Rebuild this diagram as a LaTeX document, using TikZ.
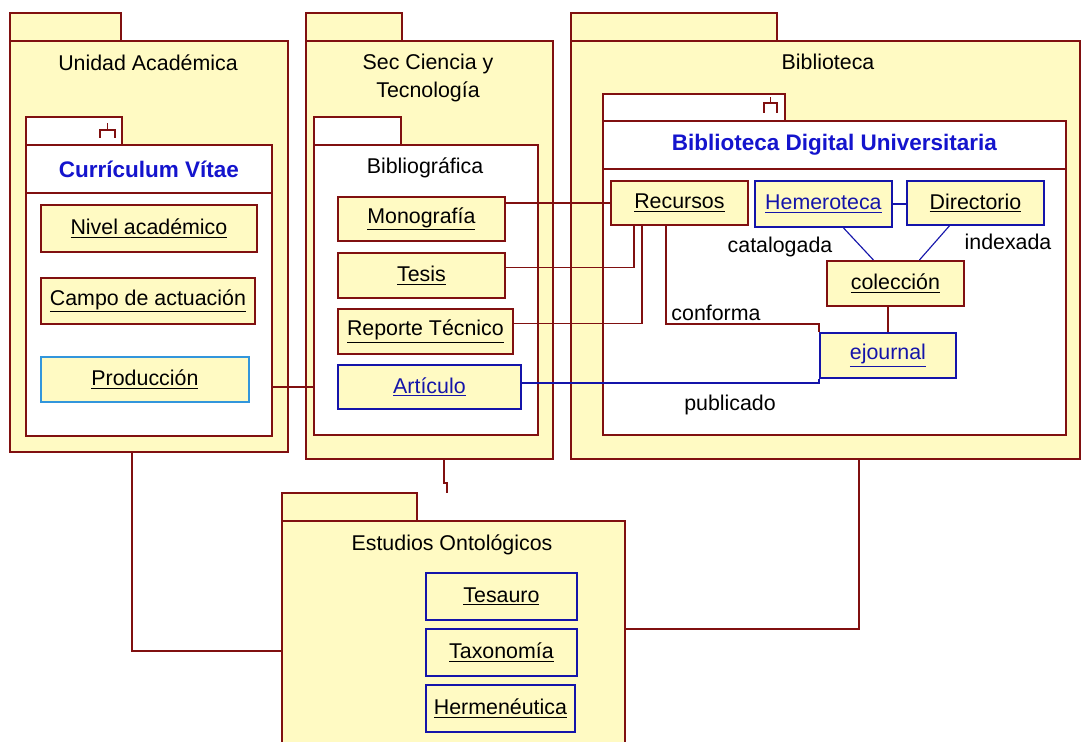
\documentclass[tikz,border=0pt]{standalone}
\usepackage{fontspec}
\setmainfont{Liberation Sans}
\definecolor{pkgfill}{RGB}{255,250,195}
\definecolor{pkgline}{RGB}{128,16,16}
\definecolor{clsblue}{RGB}{20,20,170}
\definecolor{titleblue}{RGB}{20,20,205}
\definecolor{lightblue}{RGB}{50,150,220}
\tikzstyle{pkg} = [rectangle, anchor=north west, inner sep=0pt, draw=pkgline, fill=pkgfill, line width=1.3pt]
\tikzstyle{pkgtab} = [pkg, minimum height=0.7cm]
\tikzstyle{comp} = [rectangle, anchor=north west, inner sep=0pt, text centered, draw=pkgline, fill=white, line width=1.3pt]
\tikzstyle{cls} = [rectangle, anchor=north west, inner sep=0pt, text centered, draw=pkgline, fill=pkgfill, line width=1.3pt]
\tikzstyle{clsb} = [cls, draw=clsblue]
\tikzstyle{heading} = [font=\fontsize{16}{19}\selectfont\bfseries, text=titleblue]
\tikzstyle{conn} = [draw=pkgline, line width=1.3pt]
\tikzstyle{connb} = [draw=clsblue, line width=1.3pt]
\tikzstyle{assoc} = [draw=clsblue, line width=0.8pt]

\begin{document}
\begin{tikzpicture}[x=0.025cm, y=-0.025cm, font=\fontsize{15.2}{20}\selectfont]
	\clip (0,0) rectangle (1081,742);
	\node (uatab) [pkgtab, minimum width=2.775cm] at (9,12) {};
	\node (ua) [pkg, minimum width=6.95cm, minimum height=10.275cm] at (9,40) {};
	\node (ualabel) at (148,63) {Unidad Académica};
	\node (cvtab) [comp, minimum width=2.4cm, minimum height=0.7cm] at (25,116) {};
	\node (cvhead) [comp, heading, minimum width=6.15cm, minimum height=1.2cm] at (25,144) {Currículum Vítae};
	\node (cv) [comp, minimum width=6.15cm, minimum height=6.075cm] at (25,192) {};
	\node (niv) [cls, minimum width=5.4cm, minimum height=1.175cm] at (40,204) {\underline{Nivel académico}};
	\node (campo) [cls, minimum width=5.35cm, minimum height=1.15cm] at (40,277) {\underline{Campo de actuación}};
	\node (prod) [cls, draw=lightblue, minimum width=5.2cm, minimum height=1.125cm] at (40,356) {\underline{Producción}};

	\node (sectab) [pkgtab, minimum width=2.4cm] at (305,12) {};
	\node (sec) [pkg, minimum width=6.175cm, minimum height=10.45cm] at (305,40) {};
	\node (seclabel) [align=center] at (428,78) {Sec Ciencia y\\Tecnología};
	\node (bibltab) [comp, minimum width=2.175cm, minimum height=0.7cm] at (313,116) {};
	\node (bibl) [comp, minimum width=5.6cm, minimum height=7.25cm] at (313,144) {};
	\node (bibllabel) at (425,168) {Bibliográfica};
	\node (mono) [cls, minimum width=4.175cm, minimum height=1.1cm] at (337,196) {\underline{Monografía}};
	\node (tesis) [cls, minimum width=4.175cm, minimum height=1.125cm] at (337,252) {\underline{Tesis}};
	\node (rep) [cls, minimum width=4.375cm, minimum height=1.125cm] at (337,308) {\underline{Reporte Técnico}};
	\node (art) [clsb, text=clsblue, minimum width=4.575cm, minimum height=1.1cm] at (337,364) {\underline{Artículo}};

	\node (bibtab) [pkgtab, minimum width=5.15cm] at (570,12) {};
	\node (bib) [pkg, minimum width=12.725cm, minimum height=10.45cm] at (570,40) {};
	\node (biblabel) at (828,62) {Biblioteca};
	\node (bdutab) [comp, minimum width=4.55cm, minimum height=0.675cm] at (602,93) {};
	\node (bduhead) [comp, heading, minimum width=11.575cm, minimum height=1.2cm] at (602,120) {Biblioteca Digital Universitaria};
	\node (bdu) [comp, minimum width=11.575cm, minimum height=6.65cm] at (602,168) {};
	\node (rec) [cls, minimum width=3.425cm, minimum height=1.1cm] at (610,180) {\underline{Recursos}};
	\node (hem) [clsb, text=clsblue, minimum width=3.425cm, minimum height=1.15cm] at (754,180) {\underline{Hemeroteca}};
	\node (dir) [clsb, minimum width=3.425cm, minimum height=1.1cm] at (906,180) {\underline{Directorio}};
	\node (col) [cls, minimum width=3.425cm, minimum height=1.125cm] at (826,260) {\underline{colección}};
	\node (ej) [clsb, text=clsblue, minimum width=3.4cm, minimum height=1.125cm] at (819,332) {\underline{ejournal}};

	\node (eotab) [pkgtab, minimum width=3.375cm] at (281,492) {};
	\node (eo) [pkg, minimum width=8.575cm, minimum height=6.5cm] at (281,520) {};
	\node (eolabel) at (452,545) {Estudios Ontológicos};
	\node (tes) [clsb, minimum width=3.775cm, minimum height=1.175cm] at (425,572) {\underline{Tesauro}};
	\node (tax) [clsb, minimum width=3.775cm, minimum height=1.175cm] at (425,628) {\underline{Taxonomía}};
	\node (her) [clsb, minimum width=3.725cm, minimum height=1.175cm] at (425,684) {\underline{Hermenéutica}};

	\draw [pkgline, line width=1.2pt] (100,138) -- (100,130) -- (115,130) -- (115,138) (107.5,130) -- (107.5,123);
	\draw [pkgline, line width=1.2pt] (764,113) -- (764,103) -- (777,103) -- (777,113) (770.5,103) -- (770.5,97);

	\node (catlabel) at (780,247) {catalogada};
	\node (idxlabel) at (1008,242) {indexada};
	\node (conflabel) at (716,313) {conforma};
	\node (publabel) at (730,405) {publicado};

	\draw [conn] (cv.east |- art.west) -- (bibl.west |- art.west);
	\draw [conn] (mono.east |- rec.west) -- (rec.west);
	\draw [conn] ([yshift=0.2cm]tesis.east) -| ([xshift=0.6cm]rec.south west);
	\draw [conn] ([yshift=0.2cm]rep.east) -| ([xshift=0.8cm]rec.south west);
	\draw [conn] ([xshift=1.4cm]rec.south west) |- ([yshift=0.2cm]ej.north west) -- (ej.north west);
	\draw [connb] ([yshift=0.1cm]art.east) -- ([yshift=0.1cm]art.east -| ej.west) -- (ej.south west);
	\draw [connb] (hem.east) -- (dir.west |- hem.east);
	\draw [assoc] ([xshift=0.5cm]hem.south) -- ([xshift=-0.55cm]col.north);
	\draw [assoc] ([xshift=-0.65cm]dir.south) -- ([xshift=0.6cm]col.north);
	\draw [conn] (col.south -| ej.north) -- (ej.north);
	\draw [conn] ([xshift=-0.425cm]ua.south) |- (eo.west);
	\draw [conn] ([xshift=0.84cm]bib.south) |- ([yshift=0.55cm]eo.east);
	\draw [conn] ([xshift=0.36cm]sec.south) -- ++(0,23) -- ++(3,0) -- ++(0,10);
\end{tikzpicture}
\end{document}
